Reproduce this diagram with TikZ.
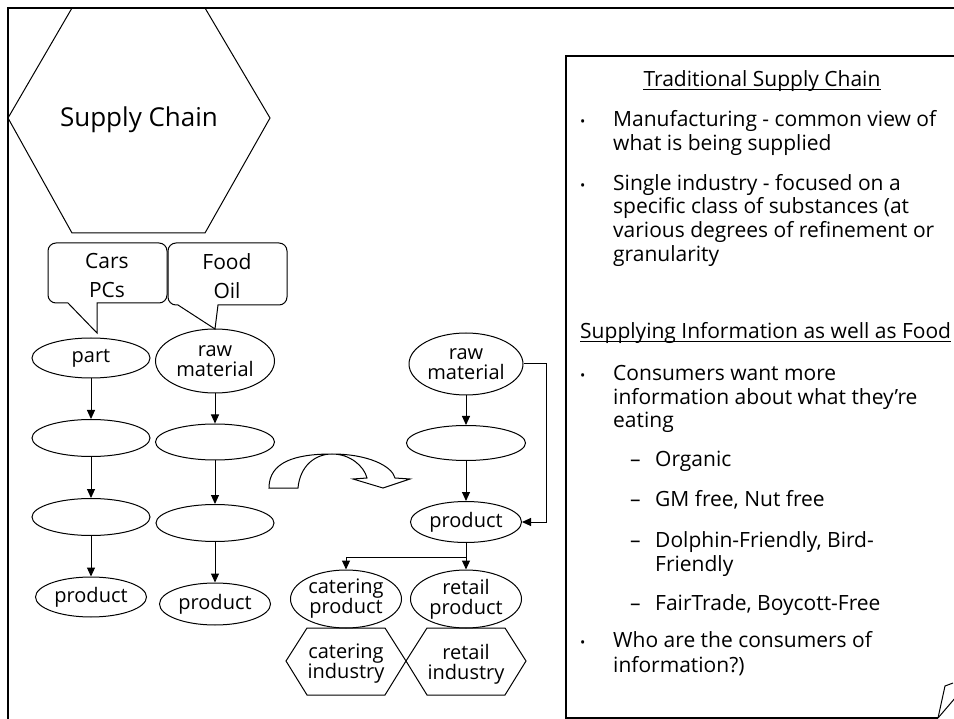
\documentclass[tikz,border=0pt]{standalone}
\usepackage{fontspec}
\setmainfont{Open Sans}
\usetikzlibrary{shapes.geometric,arrows.meta}
\begin{document}
\begin{tikzpicture}[x=1pt,y=-1pt,
  every node/.style={inner sep=0pt},
  lbl/.style={font=\fontsize{20}{20}\selectfont, align=center},
  elli/.style={draw, ellipse, line width=1pt, lbl},
  arr/.style={-{Triangle[length=9pt,width=8pt]}, line width=1pt},
  thin/.style={line width=1pt},
  txt/.style={anchor=base west, font=\fontsize{21}{24}\selectfont},
  bul/.style={anchor=base west, font=\fontsize{14}{14}\selectfont},
]
\useasboundingbox (0,0) rectangle (954,719);
\begin{scope}
\clip (0,0) rectangle (954,719);
% frame
\draw[line width=2.5pt] (8,730) -- (8,8) -- (970,8);
% big hexagon
\draw[thin] (8,118) -- (72,8) -- (205,8) -- (270,118) -- (205,233) -- (72,233) -- cycle;
\node[font=\fontsize{26}{26}\selectfont] (sc) at (139,120) {Supply Chain};
% callouts
\draw[thin] (68,303) [rounded corners=8pt] -- (48,303) -- (48,243) -- (167,243) -- (167,303) [sharp corners] -- (97,303) -- (97,333) -- cycle;
\node[lbl, font=\fontsize{21}{29}\selectfont] (cb1) at (107,276) {Cars\\PCs};
\draw[thin] (178,305) -- (215,329) -- (218,305) [rounded corners=8pt] -- (287,305) -- (287,243) -- (168,243) -- (168,305) [sharp corners] -- cycle;
\node[lbl, font=\fontsize{21}{29}\selectfont] (cb2) at (227,276) {Food\\Oil};
% left column
\node[elli, minimum width=118pt, minimum height=40pt] (a1) at (91,358) {part};
\node[elli, minimum width=118pt, minimum height=37pt] (a2) at (91,438) {};
\node[elli, minimum width=118pt, minimum height=37pt] (a3) at (91,517) {};
\node[elli, minimum width=111pt, minimum height=40pt] (a4) at (91,597) {product};
\draw[arr] (a1) -- (a2);
\draw[arr] (a2) -- (a3);
\draw[arr] (a3) -- (a4);
% second column
\node[elli, minimum width=119pt, minimum height=64pt] (b1) at (215,361) {raw\\material};
\node[elli, minimum width=119pt, minimum height=36pt] (b2) at (215,442) {};
\node[elli, minimum width=118pt, minimum height=37pt] (b3) at (215,523) {};
\node[elli, minimum width=111pt, minimum height=42pt] (b4) at (215,604) {product};
\draw[arr] (b1) -- (b2);
\draw[arr] (b2) -- (b3);
\draw[arr] (b3) -- (b4);
% curved block arrow
\draw[thin] (269,488) .. controls (269,462) and (295,454) .. (332,454)
  .. controls (368,454) and (392,466) .. (395,478) -- (410,479) -- (383,488) -- (353,479) -- (367,478)
  .. controls (364,466) and (350,454) .. (332,454)
  .. controls (315,454) and (300,466) .. (298,488) -- cycle;
% right diagram
\node[elli, minimum width=114pt, minimum height=62pt] (c1) at (466,364) {raw\\material};
\node[elli, minimum width=119pt, minimum height=35pt] (c2) at (466,443) {};
\node[elli, minimum width=111pt, minimum height=41pt] (c3) at (466,522) {product};
\node[elli, minimum width=111pt, minimum height=58pt] (d1) at (346,599) {catering\\product};
\node[elli, minimum width=111pt, minimum height=58pt] (d2) at (466,599) {retail\\product};
\draw[arr] (c1) -- (c2);
\draw[arr] (c2) -- (c3);
\coordinate (k1) at (546,364);
\draw[arr] (c1.east) -- (k1) |- (c3.east);
\coordinate (br) at (466,557);
\draw[thin] (c3.south) -- (br);
\draw[arr] (br) -- (d2.north);
\draw[arr] (br) -| (d1.north);
% small hexagons
\draw[thin] (286,661) -- (307,628) -- (385,628) -- (406,661) -- (385,695) -- (307,695) -- cycle;
\draw[thin] (406,661) -- (427,628) -- (505,628) -- (526,661) -- (505,695) -- (427,695) -- cycle;
\node[lbl] (e1) at (346,664) {catering\\industry};
\node[lbl] (e2) at (466,664) {retail\\industry};
% right panel
\draw[line width=1.5pt] (970,56) -- (566,56) -- (566,718) -- (938,718);
\draw[thin] (938,718) -- (945,686) -- (953,683);
\draw[thin] (938,718) -- (962,690);
\node[txt, anchor=base] (h1) at (762,87) {Traditional Supply Chain};
\draw[thin] ([yshift=-3pt]h1.base west) -- ([yshift=-3pt]h1.base east);
\node[txt] (h2) at (580,339) {Supplying Information as well as Food};
\draw[thin] ([yshift=-3pt]h2.base west) -- ([yshift=-3pt]h2.base east);
\foreach \yy [count=\i] in {127,191,381,647}
  \node[bul] (bu\i) at (580,\yy) {•};
\foreach \yy/\tt [count=\i] in {127/{Manufacturing - common view of},151/{what is being supplied},191/{Single industry - focused on a},214/{specific class of substances (at},238/{various degrees of refinement or},262/{granularity},381/{Consumers want more},405/{information about what they’re},428/{eating},647/{Who are the consumers of},672/{information?)}}
  \node[txt] (ln\i) at (613,\yy) {\tt};
\foreach \yy [count=\i] in {467,507,547,610}
  \node[txt] (da\i) at (630,\yy) {–};
\foreach \yy/\tt [count=\i] in {467/{Organic},507/{GM free, Nut free},547/{Dolphin-Friendly, Bird-},571/{Friendly},610/{FairTrade, Boycott-Free}}
  \node[txt] (sb\i) at (655,\yy) {\tt};
\end{scope}
\end{tikzpicture}
\end{document}
